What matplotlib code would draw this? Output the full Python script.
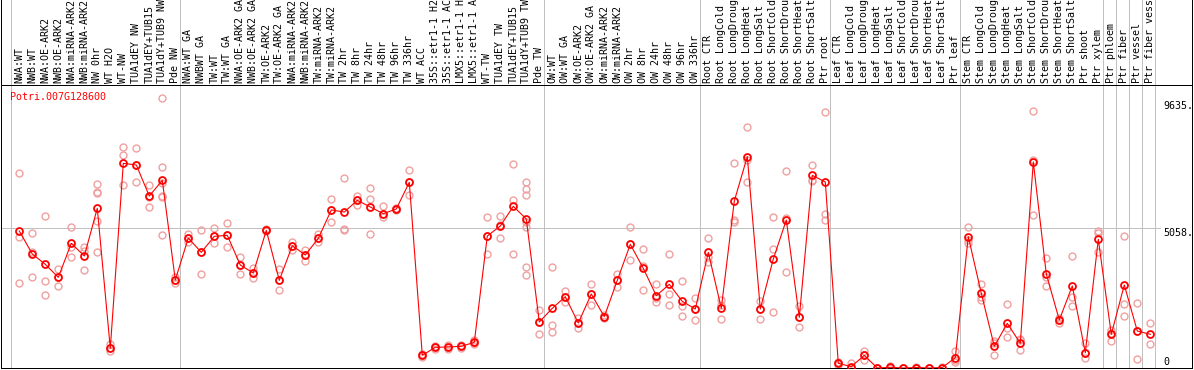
import numpy as np
import matplotlib
matplotlib.use("Agg")
import matplotlib.pyplot as plt

# sample labels, in plotting order
labels = [
    "NWA:WT", "NWB:WT", "NWA:OE-ARK2", "NWB:OE-ARK2", "NWA:miRNA-ARK2", "NWB:miRNA-ARK2",
    "NW 0hr", "WT H2O", "WT-NW", "TUA1dEY NW", "TUA1dEY+TUB15", "TUA1dY+TUB9 NW", "Pde NW",
    "NWA:WT GA", "NWBWT GA", "TW:WT", "TW:WT GA", "NWA:OE-ARK2 GA", "NWB:OE-ARK2 GA",
    "TW:OE-ARK2", "TW:OE-ARK2 GA", "NWA:miRNA-ARK2", "NWB:miRNA-ARK2", "TW:miRNA-ARK2",
    "TW:miRNA-ARK2", "TW 2hr", "TW 8hr", "TW 24hr", "TW 48hr", "TW 96hr", "TW 336hr",
    "WT ACC", "35S::etr1-1 H2", "35S::etr1-1 AC", "LMX5::etr1-1 H", "LMX5::etr1-1 A",
    "WT-TW", "TUA1dEY TW", "TUA1dEY+TUB15", "TUA1dY+TUB9 TW", "Pde TW",
    "OW:WT", "OW:WT GA", "OW:OE-ARK2", "OW:OE-ARK2 GA", "OW:miRNA-ARK2", "OW:miRNA-ARK2",
    "OW 2hr", "OW 8hr", "OW 24hr", "OW 48hr", "OW 96hr", "OW 336hr",
    "Root CTR", "Root LongCold", "Root LongDroug", "Root LongHeat", "Root LongSalt",
    "Root ShortCold", "Root ShortDrou", "Root ShortHeat", "Root ShortSalt", "Ptr root",
    "Leaf CTR", "Leaf LongCold", "Leaf LongDroug", "Leaf LongHeat", "Leaf LongSalt",
    "Leaf ShortCold", "Leaf ShortDrou", "Leaf ShortHeat", "Leaf ShortSalt", "Ptr leaf",
    "Stem CTR", "Stem LongCold", "Stem LongDroug", "Stem LongHeat", "Stem LongSalt",
    "Stem ShortCold", "Stem ShortDrou", "Stem ShortHeat", "Stem ShortSalt",
    "Ptr shoot", "Ptr xylem", "Ptr phloem", "Ptr fiber", "Ptr vessel", "Ptr fiber vess",
]

# index where each experiment group starts (plus the end)
group_starts = [0, 13, 41, 53, 63, 73, 84, 85, 86, 87, 88]

# mean expression per sample
means = [
    4950, 4119, 3746, 3276, 4504, 4047, 5769, 710, 7395, 7334, 6214, 6781, 3179,
    4697, 4179, 4757, 4794, 3721, 3432, 4974, 3167, 4420, 4083, 4684, 5709, 5636,
    6058, 5817, 5576, 5745, 6709, 458, 747, 760, 783, 928, 4769, 5130, 5842, 5383, 1662,
    2156, 2577, 1626, 2674, 1855, 3167, 4468, 3601, 2613, 3023, 2408, 2132,
    4179, 2156, 6034, 7636, 2132, 3938, 5347, 1830, 6961, 6720,
    169, 48, 458, 0, 24, 0, 18, 0, 18, 373,
    4745, 2698, 783, 1614, 892, 7443, 3396, 1734, 2963, 554, 4649,
    1216, 2999, 1337, 1216,
]

# individual replicates per sample
reps = [
    [7034, 4745, 3071], [4866, 4203, 3288], [5480, 3131, 2626], [3577, 3276, 2975],
    [5082, 4384, 3998], [4372, 4239, 3529], [6648, 6370, 6311, 5323, 4179], [867, 710, 614],
    [7985, 7684, 6600], [7936, 7334, 6708], [6600, 6190, 5817],
    [9755, 7250, 6672, 6214, 6166, 4805], [3276, 3179, 3059],
    [4829, 4697, 4564], [4986, 4179, 3396], [5070, 4757, 4528], [5227, 4794, 4360],
    [4022, 3721, 3396], [3625, 3432, 3240], [5010, 4974, 4938], [3577, 3167, 2806],
    [4540, 4420, 4263], [4263, 4083, 3878], [4829, 4684, 4564], [6094, 5709, 5263],
    [6853, 5022, 4986], [6226, 6058, 5889], [6503, 6094, 4829], [5853, 5576, 5467],
    [5790, 5745, 5700], [7166, 6709, 6245], [520, 458, 400], [800, 747, 690],
    [830, 760, 700], [840, 783, 730], [1012, 891, 880], [5445, 4758, 4108],
    [5492, 5167, 4708], [7371, 6059, 4108], [6720, 6478, 6250, 5275, 5094, 3638, 3349],
    [2096, 1662, 1228],
    [3649, 1554, 1313], [2782, 2577, 2396], [1794, 1626, 1433], [3035, 2674, 2276],
    [1915, 1855, 1794], [3396, 3167, 2914], [5082, 4468, 3902], [4300, 3697, 2806],
    [3035, 2517, 2396], [4119, 2661, 2276], [3131, 2240, 1866], [2529, 2132, 1734],
    [4685, 4022, 3842], [2457, 2276, 1758], [7395, 5347, 5287], [8697, 7515, 6708],
    [2421, 2132, 1758], [5456, 4300, 2023], [7118, 5408, 3457], [2252, 1830, 1493],
    [7323, 6792, 6745], [9238, 5553, 5336],
    [220, 169, 120], [169, 0, 0], [626, 458, 290], [0, 0, 0], [84, 0, 0], [0, 0, 0],
    [36, 18, 0], [0, 0, 0], [36, 18, 0], [626, 289, 205],
    [5082, 4625, 4528], [3035, 2577, 2457], [988, 891, 458], [2312, 1457, 1108],
    [1036, 1000, 640], [9274, 7515, 5516], [3962, 3276, 2963], [1794, 1734, 1614],
    [4047, 2577, 2240], [891, 554, 373], [4950, 4889, 4203],
    [1373, 1252, 963], [4769, 2312, 1879], [2348, 1337, 313], [1614, 855],
]

gene = "Potri.007G128600"
ref_values = [9635, 5058]

W, H = 1194, 370
fig = plt.figure(figsize=(W / 100, H / 100), dpi=100)
fig.patch.set_facecolor("white")
# plot area: x 1..1192 px, y 85..368 px
ax = fig.add_axes([1 / W, 2 / H, 1191 / W, 283 / H])
ax.set_xlim((1 - 19.3) / 13, (1192 - 19.3) / 13)
ax.set_ylim(0, 283 * 36.13)
ax.set_xticks([])
ax.set_yticks([])
for s in ax.spines.values():
    s.set_linewidth(0.72)
    s.set_color("black")

ext = 368 / 283  # reach to top of figure
mono = "DejaVu Sans Mono"
fs = 7.2

for b in group_starts:
    ax.axvline(b - 0.62, ymin=0, ymax=ext, clip_on=False, color="#c0c0c0", lw=0.72, zorder=0)
ax.axhline(ref_values[1], xmin=0, xmax=(1160 - 1) / 1191, color="#c0c0c0", lw=0.72, zorder=0)
for xa in (0, 1):
    ax.plot([xa, xa], [0, ext + 0.01], transform=ax.transAxes, clip_on=False,
            color="black", lw=0.72)

idx = np.arange(len(labels))
for i, r in enumerate(reps):
    ax.plot(np.full(len(r), i), r, "o", mfc="none", mec="#f0a0a0", ms=5.0, mew=1.0, zorder=2)
ax.plot(idx, means, color="red", lw=0.8, zorder=3)
ax.plot(idx, means, "o", mfc="none", mec="red", ms=5.0, mew=1.3, zorder=4)

tr = ax.get_xaxis_transform()
for i, lab in enumerate(labels):
    ax.text(i, 285 / 283, lab, transform=tr, rotation=90, ha="center", va="bottom",
            family=mono, fontsize=fs, color="black", clip_on=False)

ax.text(9 / 1191, 9791, gene, transform=ax.get_yaxis_transform(), ha="left", va="center",
        family=mono, fontsize=fs, color="red")
yt = ax.get_yaxis_transform()
xr = (1163 - 1) / 1191
ax.text(xr, ref_values[0], f"{ref_values[0]}.", transform=yt, ha="left", va="top",
        family=mono, fontsize=fs)
ax.text(xr, ref_values[1], f"{ref_values[1]}.", transform=yt, ha="left", va="top",
        family=mono, fontsize=fs)
ax.text(xr, 40, "0", transform=yt, ha="left", va="bottom", family=mono, fontsize=fs)

fig.savefig("out.png", dpi=100)
